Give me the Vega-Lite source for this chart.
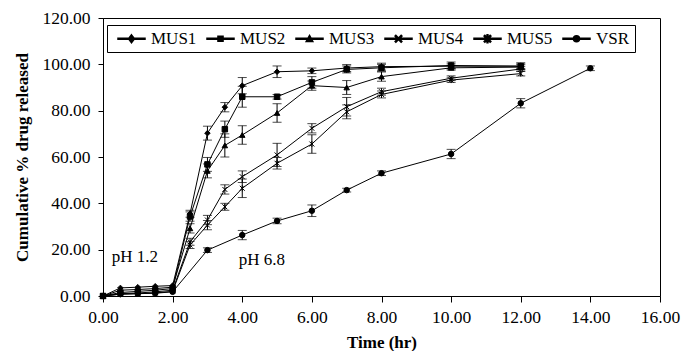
{
  "$schema": "https://vega.github.io/schema/vega-lite/v6.json",
  "autosize": {"type": "none"},
  "width": 557,
  "height": 278,
  "padding": {"left": 103, "top": 18, "right": 23, "bottom": 55},
  "background": "white",
  "config": {
    "font": "Liberation Serif",
    "view": {"stroke": "black", "strokeWidth": 1},
    "axis": {
      "grid": false,
      "domainColor": "black",
      "tickColor": "black",
      "labelColor": "black",
      "titleColor": "black",
      "labelFont": "Liberation Serif",
      "titleFont": "Liberation Serif",
      "labelFontSize": 17.5,
      "titleFontSize": 17,
      "titleFontWeight": "bold",
      "tickSize": 5,
      "labelFlush": false
    }
  },
  "datasets": {
    "release": [
      {"series": "MUS1", "t": 0, "v": 0, "e": 0},
      {"series": "MUS1", "t": 0.5, "v": 3.5, "e": 0},
      {"series": "MUS1", "t": 1, "v": 3.8, "e": 0},
      {"series": "MUS1", "t": 1.5, "v": 4.2, "e": 0},
      {"series": "MUS1", "t": 2, "v": 4.5, "e": 0},
      {"series": "MUS1", "t": 2.5, "v": 35.5, "e": 1.5},
      {"series": "MUS1", "t": 3, "v": 70.3, "e": 3},
      {"series": "MUS1", "t": 3.5, "v": 81.5, "e": 2},
      {"series": "MUS1", "t": 4, "v": 90.8, "e": 3.5},
      {"series": "MUS1", "t": 5, "v": 96.8, "e": 2.5},
      {"series": "MUS1", "t": 6, "v": 97.2, "e": 1.2},
      {"series": "MUS1", "t": 7, "v": 98.4, "e": 1.5},
      {"series": "MUS1", "t": 8, "v": 99, "e": 1.5},
      {"series": "MUS1", "t": 10, "v": 99.2, "e": 1},
      {"series": "MUS1", "t": 12, "v": 99.2, "e": 1},
      {"series": "MUS2", "t": 0, "v": 0, "e": 0},
      {"series": "MUS2", "t": 0.5, "v": 1.5, "e": 0},
      {"series": "MUS2", "t": 1, "v": 2, "e": 0},
      {"series": "MUS2", "t": 1.5, "v": 2.5, "e": 0},
      {"series": "MUS2", "t": 2, "v": 3.2, "e": 0},
      {"series": "MUS2", "t": 2.5, "v": 34.3, "e": 2},
      {"series": "MUS2", "t": 3, "v": 56.8, "e": 3},
      {"series": "MUS2", "t": 3.5, "v": 72, "e": 3.5},
      {"series": "MUS2", "t": 4, "v": 86, "e": 4.5},
      {"series": "MUS2", "t": 5, "v": 86, "e": 1},
      {"series": "MUS2", "t": 6, "v": 92.2, "e": 2.5},
      {"series": "MUS2", "t": 7, "v": 97.8, "e": 1.5},
      {"series": "MUS2", "t": 8, "v": 98.5, "e": 1.5},
      {"series": "MUS2", "t": 10, "v": 99.5, "e": 1.5},
      {"series": "MUS2", "t": 12, "v": 99.2, "e": 1.5},
      {"series": "MUS3", "t": 0, "v": 0, "e": 0},
      {"series": "MUS3", "t": 0.5, "v": 2.5, "e": 0},
      {"series": "MUS3", "t": 1, "v": 2.8, "e": 0},
      {"series": "MUS3", "t": 1.5, "v": 3.2, "e": 0},
      {"series": "MUS3", "t": 2, "v": 3.8, "e": 0},
      {"series": "MUS3", "t": 2.5, "v": 29.2, "e": 2},
      {"series": "MUS3", "t": 3, "v": 54, "e": 3},
      {"series": "MUS3", "t": 3.5, "v": 65, "e": 5},
      {"series": "MUS3", "t": 4, "v": 69.5, "e": 4},
      {"series": "MUS3", "t": 5, "v": 79, "e": 4},
      {"series": "MUS3", "t": 6, "v": 90.8, "e": 2},
      {"series": "MUS3", "t": 7, "v": 90, "e": 3},
      {"series": "MUS3", "t": 8, "v": 94.7, "e": 2},
      {"series": "MUS3", "t": 10, "v": 98.5, "e": 1},
      {"series": "MUS3", "t": 12, "v": 98.8, "e": 1},
      {"series": "MUS4", "t": 0, "v": 0, "e": 0},
      {"series": "MUS4", "t": 0.5, "v": 1, "e": 0},
      {"series": "MUS4", "t": 1, "v": 1.3, "e": 0},
      {"series": "MUS4", "t": 1.5, "v": 1.8, "e": 0},
      {"series": "MUS4", "t": 2, "v": 2.5, "e": 0},
      {"series": "MUS4", "t": 2.5, "v": 23.4, "e": 1.5},
      {"series": "MUS4", "t": 3, "v": 32.8, "e": 2},
      {"series": "MUS4", "t": 3.5, "v": 46, "e": 2},
      {"series": "MUS4", "t": 4, "v": 51.5, "e": 2.5},
      {"series": "MUS4", "t": 5, "v": 60.9, "e": 5},
      {"series": "MUS4", "t": 6, "v": 72.4, "e": 2},
      {"series": "MUS4", "t": 7, "v": 81.7, "e": 4},
      {"series": "MUS4", "t": 8, "v": 88.2, "e": 1.5},
      {"series": "MUS4", "t": 10, "v": 94, "e": 1},
      {"series": "MUS4", "t": 12, "v": 98, "e": 1},
      {"series": "MUS5", "t": 0, "v": 0, "e": 0},
      {"series": "MUS5", "t": 0.5, "v": 0.8, "e": 0},
      {"series": "MUS5", "t": 1, "v": 1, "e": 0},
      {"series": "MUS5", "t": 1.5, "v": 1.3, "e": 0},
      {"series": "MUS5", "t": 2, "v": 2, "e": 0},
      {"series": "MUS5", "t": 2.5, "v": 22, "e": 1.5},
      {"series": "MUS5", "t": 3, "v": 30.6, "e": 2},
      {"series": "MUS5", "t": 3.5, "v": 38.5, "e": 1.5},
      {"series": "MUS5", "t": 4, "v": 46.5, "e": 4},
      {"series": "MUS5", "t": 5, "v": 57.3, "e": 2.5},
      {"series": "MUS5", "t": 6, "v": 65.6, "e": 4},
      {"series": "MUS5", "t": 7, "v": 79.5, "e": 3},
      {"series": "MUS5", "t": 8, "v": 87, "e": 1.5},
      {"series": "MUS5", "t": 10, "v": 93.2, "e": 1},
      {"series": "MUS5", "t": 12, "v": 96, "e": 1},
      {"series": "VSR", "t": 0, "v": 0, "e": 0},
      {"series": "VSR", "t": 0.5, "v": 0.8, "e": 0},
      {"series": "VSR", "t": 1, "v": 1, "e": 0},
      {"series": "VSR", "t": 1.5, "v": 1.2, "e": 0},
      {"series": "VSR", "t": 2, "v": 1.8, "e": 0},
      {"series": "VSR", "t": 3, "v": 19.8, "e": 1},
      {"series": "VSR", "t": 4, "v": 26.3, "e": 2},
      {"series": "VSR", "t": 5, "v": 32.4, "e": 1.2},
      {"series": "VSR", "t": 6, "v": 36.8, "e": 2.5},
      {"series": "VSR", "t": 7, "v": 45.7, "e": 0.8},
      {"series": "VSR", "t": 8, "v": 53, "e": 1},
      {"series": "VSR", "t": 10, "v": 61.3, "e": 2},
      {"series": "VSR", "t": 12, "v": 83.2, "e": 2},
      {"series": "VSR", "t": 14, "v": 98.3, "e": 1}
    ],
    "notes": [
      {"t": 0.25, "v": 17, "label": "pH  1.2"},
      {"t": 3.9, "v": 15.5, "label": "pH 6.8"}
    ]
  },
  "encoding": {
    "x": {
      "field": "t", "type": "quantitative",
      "scale": {"domain": [0, 16], "nice": false, "padding": 0, "zero": false},
      "axis": {"values": [0, 2, 4, 6, 8, 10, 12, 14, 16], "format": ".2f", "title": "Time (hr)", "labelPadding": 6, "titlePadding": 9, "tickSize": 6}
    },
    "y": {
      "field": "v", "type": "quantitative",
      "scale": {"domain": [0, 120], "nice": false, "padding": 0},
      "axis": {"values": [0, 20, 40, 60, 80, 100, 120], "format": ".2f", "title": "Cumulative % drug released", "labelPadding": 8, "titlePadding": 10}
    }
  },
  "resolve": {"scale": {"shape": "independent"}, "legend": {"shape": "independent"}},
  "layer": [
    {
      "data": {"name": "release"},
      "transform": [{"filter": "datum.e > 0"}],
      "mark": {"type": "errorbar", "color": "black", "ticks": {"size": 9, "color": "black"}, "rule": {"strokeWidth": 1}},
      "encoding": {
        "x": {"field": "t", "type": "quantitative"},
        "y": {"field": "v", "type": "quantitative"},
        "yError": {"field": "e"},
        "detail": {"field": "series"}
      }
    },
    {
      "data": {"name": "release"},
      "mark": {"type": "line", "color": "black", "strokeWidth": 1},
      "encoding": {
        "detail": {"field": "series", "type": "nominal"}
      }
    },
    {
      "data": {"name": "release"},
      "mark": {"type": "point", "filled": true, "fill": "black", "stroke": "black", "strokeWidth": 1, "opacity": 1, "size": 30},
      "encoding": {
        "shape": {
          "field": "series", "type": "nominal",
          "scale": {
            "domain": ["MUS1", "MUS2", "MUS3", "MUS4", "MUS5", "VSR"],
            "range": ["diamond", "square", "triangle-up", "M-0.9,-0.9L0.9,0.9M-0.9,0.9L0.9,-0.9", "M-0.9,-0.9L0.9,0.9M-0.9,0.9L0.9,-0.9M0,-1.1L0,1.1", "circle"]
          },
          "legend": null
        }
      }
    },
    {
      "data": {"name": "release"},
      "transform": [{"filter": "datum.t < 0"}],
      "mark": {"type": "point", "filled": true, "fill": "black", "stroke": "black", "strokeWidth": 1, "opacity": 1, "size": 36},
      "encoding": {
        "shape": {
          "field": "series", "type": "nominal",
          "scale": {
            "domain": ["MUS1", "MUS2", "MUS3", "MUS4", "MUS5", "VSR"],
            "range": [
              "M-4.5,-0.17L4.5,-0.17L4.5,0.17L-4.5,0.17ZM0,-1.3L1,0L0,1.3L-1,0Z",
              "M-4.5,-0.17L4.5,-0.17L4.5,0.17L-4.5,0.17ZM-0.85,-0.85L0.85,-0.85L0.85,0.85L-0.85,0.85Z",
              "M-4.5,-0.17L4.5,-0.17L4.5,0.17L-4.5,0.17ZM0,-1.1L1.1,0.9L-1.1,0.9Z",
              "M-4.5,-0.17L4.5,-0.17L4.5,0.17L-4.5,0.17ZM-1.12,-0.88L0.88,1.12L1.12,0.88L-0.88,-1.12ZM1.12,-0.88L-0.88,1.12L-1.12,0.88L0.88,-1.12Z",
              "M-4.5,-0.17L4.5,-0.17L4.5,0.17L-4.5,0.17ZM-1.12,-0.88L0.88,1.12L1.12,0.88L-0.88,-1.12ZM1.12,-0.88L-0.88,1.12L-1.12,0.88L0.88,-1.12ZM-0.14,-1.3L0.14,-1.3L0.14,1.3L-0.14,1.3Z",
              "M-4.5,-0.17L4.5,-0.17L4.5,0.17L-4.5,0.17ZM-1,0A1,1 0 1,1 1,0A1,1 0 1,1 -1,0Z"
            ]
          },
          "legend": {
            "title": null,
            "orient": "none",
            "legendX": 4,
            "legendY": 7,
            "direction": "horizontal",
            "strokeColor": "black",
            "padding": 5,
            "labelFont": "Liberation Serif",
            "labelFontSize": 17,
            "labelColor": "black",
            "symbolSize": 36,
            "symbolOpacity": 1,
            "symbolFillColor": "black",
            "symbolOffset": 11,
            "labelOffset": 11,
            "columnPadding": 4
          }
        }
      }
    },
    {
      "data": {"name": "notes"},
      "mark": {"type": "text", "align": "left", "baseline": "middle", "fontSize": 17, "font": "Liberation Serif", "color": "black"},
      "encoding": {
        "text": {"field": "label", "type": "nominal"}
      }
    }
  ]
}
